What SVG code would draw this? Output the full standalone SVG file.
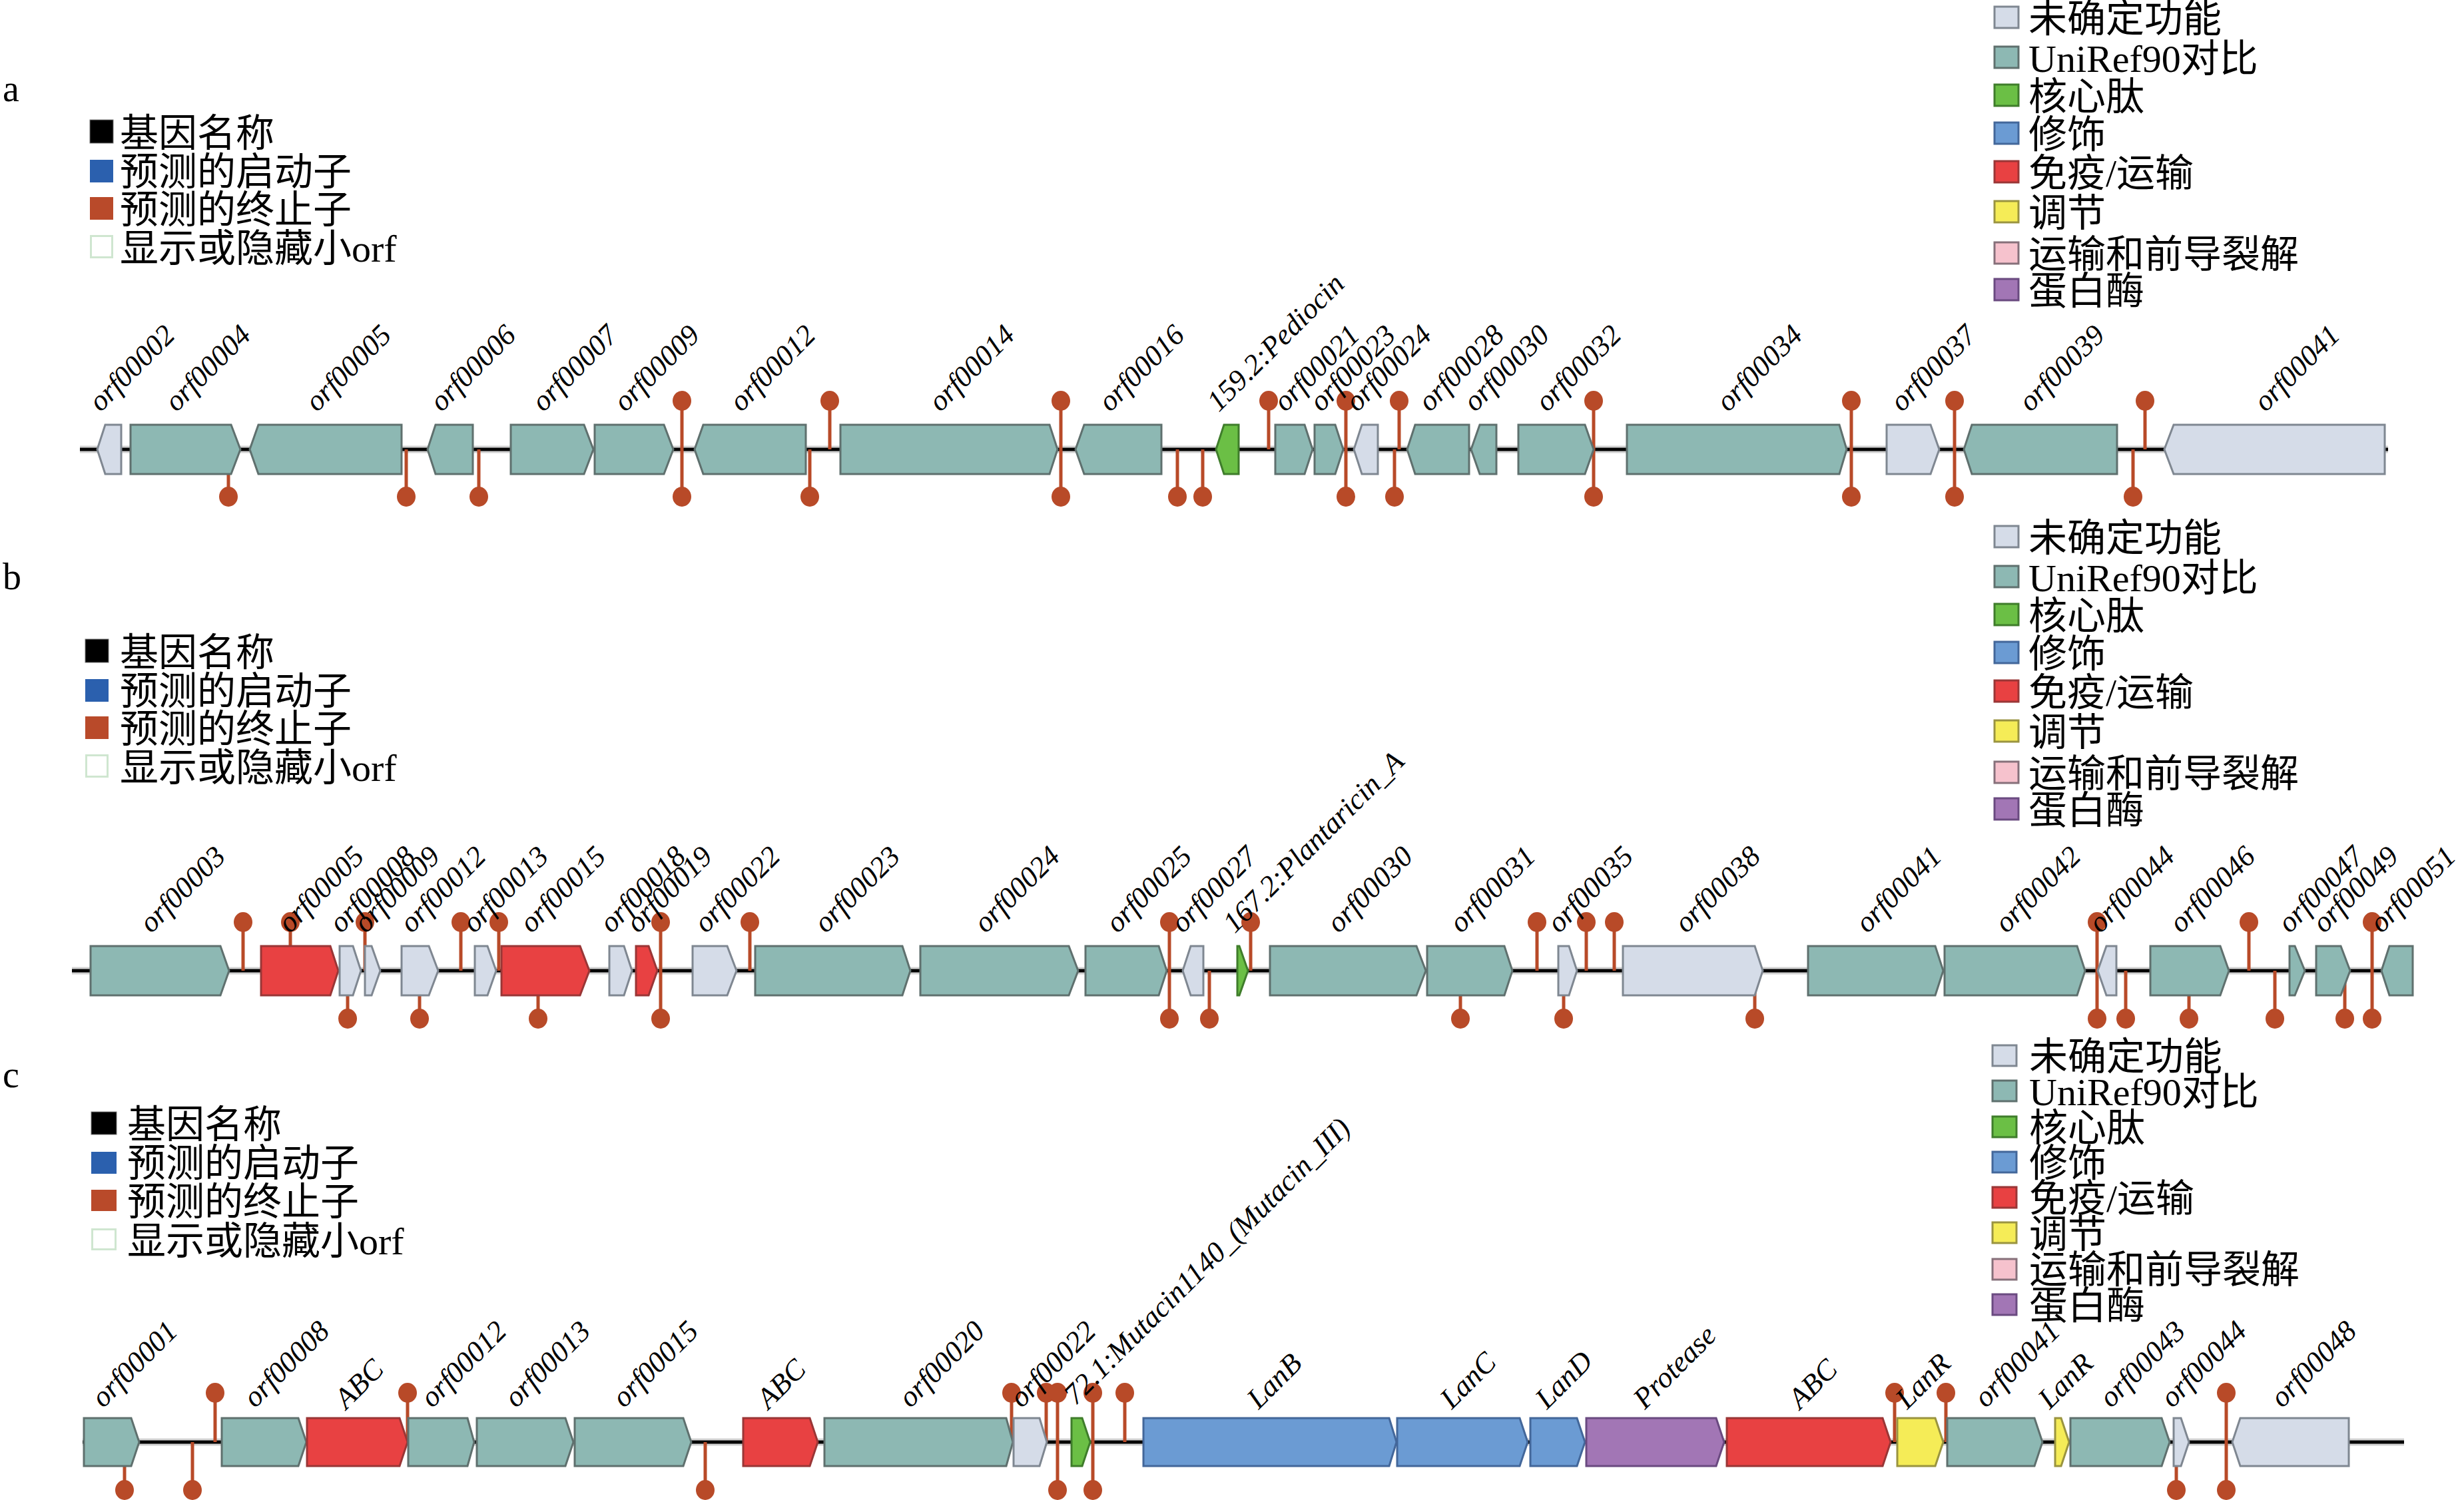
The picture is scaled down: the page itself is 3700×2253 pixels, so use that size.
<svg xmlns="http://www.w3.org/2000/svg" width="3700" height="2253" viewBox="0 0 3700 2253">
<style>
.bg{fill:#ffffff}
.axis{stroke:#000;stroke-width:5}
.halo{stroke:#d2d2d2;stroke-width:11}
.g{stroke-width:3;stroke-linejoin:miter}
.teal{fill:#8db8b3;stroke:#5f706e}
.grey{fill:#d5dce8;stroke:#7f8791}
.red{fill:#e84142;stroke:#9a3636}
.green{fill:#6bbf45;stroke:#3f7d2b}
.blue{fill:#6b9bd3;stroke:#43679a}
.purple{fill:#a276b5;stroke:#6a4a80}
.yellow{fill:#f5ec57;stroke:#9a9440}
.pink{fill:#f6c2cd;stroke:#86707a}
.lbl{font-family:"Liberation Serif","Times New Roman",serif;font-style:italic;font-size:44px;fill:#000}
.leg{font-family:"Liberation Serif","Noto Sans CJK SC",serif;font-size:58px;fill:#000}
.pl{font-family:"Liberation Serif",serif;font-size:56px;fill:#000}
.ts line{stroke:#b84a28;stroke-width:5}
.ts ellipse{fill:#b84a28}
.sq{stroke-width:3}
</style>
<rect class="bg" x="0" y="0" width="3700" height="2253"/>

<!-- panel letters -->
<text class="pl" x="4" y="152">a</text>
<text class="pl" x="4" y="885">b</text>
<text class="pl" x="4" y="1633">c</text>

<!-- left legends -->
<g id="legend-left-a">
<rect x="135" y="180" width="35" height="35" fill="#000" stroke="#777" stroke-width="1"/>
<rect x="135" y="240" width="35" height="34" fill="#2b60ae"/>
<rect x="135" y="296" width="35" height="34" fill="#b94a2a"/>
<rect x="136.5" y="354.5" width="32" height="32" fill="#fff" stroke="#cfe6d0" stroke-width="3"/>
<text class="leg" x="180" y="220">基因名称</text>
<text class="leg" x="180" y="278">预测的启动子</text>
<text class="leg" x="180" y="335">预测的终止子</text>
<text class="leg" x="180" y="393">显示或隐藏小orf</text>
</g>
<g id="legend-left-b">
<rect x="128" y="960" width="35" height="35" fill="#000" stroke="#777" stroke-width="1"/>
<rect x="128" y="1020" width="35" height="34" fill="#2b60ae"/>
<rect x="128" y="1076" width="35" height="34" fill="#b94a2a"/>
<rect x="129.5" y="1134.5" width="32" height="32" fill="#fff" stroke="#cfe6d0" stroke-width="3"/>
<text class="leg" x="180" y="1000">基因名称</text>
<text class="leg" x="180" y="1058">预测的启动子</text>
<text class="leg" x="180" y="1115">预测的终止子</text>
<text class="leg" x="180" y="1173">显示或隐藏小orf</text>
</g>
<g id="legend-left-c">
<rect x="137" y="1670" width="38" height="34" fill="#000" stroke="#777" stroke-width="1"/>
<rect x="137" y="1730" width="38" height="33" fill="#2b60ae"/>
<rect x="137" y="1787" width="38" height="32" fill="#b94a2a"/>
<rect x="138.5" y="1846.5" width="35" height="30" fill="#fff" stroke="#cfe6d0" stroke-width="3"/>
<text class="leg" x="191" y="1709">基因名称</text>
<text class="leg" x="191" y="1767">预测的启动子</text>
<text class="leg" x="191" y="1825">预测的终止子</text>
<text class="leg" x="191" y="1884">显示或隐藏小orf</text>
</g>

<!-- right legends -->
<g id="legend-right-a">
<rect class="sq grey" x="2995" y="10" width="36" height="32"/>
<rect class="sq teal" x="2995" y="70" width="36" height="32"/>
<rect class="sq green" x="2995" y="127" width="36" height="32"/>
<rect class="sq blue" x="2995" y="184" width="36" height="32"/>
<rect class="sq red" x="2995" y="242" width="36" height="32"/>
<rect class="sq yellow" x="2995" y="302" width="36" height="32"/>
<rect class="sq pink" x="2995" y="364" width="36" height="32"/>
<rect class="sq purple" x="2995" y="419" width="36" height="32"/>
<text class="leg" x="3046" y="48">未确定功能</text>
<text class="leg" x="3046" y="108">UniRef90对比</text>
<text class="leg" x="3046" y="165">核心肽</text>
<text class="leg" x="3046" y="222">修饰</text>
<text class="leg" x="3046" y="280">免疫/运输</text>
<text class="leg" x="3046" y="340">调节</text>
<text class="leg" x="3046" y="402">运输和前导裂解</text>
<text class="leg" x="3046" y="457">蛋白酶</text>
</g>
<g id="legend-right-b">
<rect class="sq grey" x="2995" y="790" width="36" height="32"/>
<rect class="sq teal" x="2995" y="850" width="36" height="32"/>
<rect class="sq green" x="2995" y="907" width="36" height="32"/>
<rect class="sq blue" x="2995" y="964" width="36" height="32"/>
<rect class="sq red" x="2995" y="1022" width="36" height="32"/>
<rect class="sq yellow" x="2995" y="1082" width="36" height="32"/>
<rect class="sq pink" x="2995" y="1144" width="36" height="32"/>
<rect class="sq purple" x="2995" y="1199" width="36" height="32"/>
<text class="leg" x="3046" y="828">未确定功能</text>
<text class="leg" x="3046" y="888">UniRef90对比</text>
<text class="leg" x="3046" y="945">核心肽</text>
<text class="leg" x="3046" y="1002">修饰</text>
<text class="leg" x="3046" y="1060">免疫/运输</text>
<text class="leg" x="3046" y="1120">调节</text>
<text class="leg" x="3046" y="1182">运输和前导裂解</text>
<text class="leg" x="3046" y="1237">蛋白酶</text>
</g>
<g id="legend-right-c">
<rect class="sq grey" x="2992" y="1570" width="36" height="31"/>
<rect class="sq teal" x="2992" y="1623" width="36" height="31"/>
<rect class="sq green" x="2992" y="1677" width="36" height="31"/>
<rect class="sq blue" x="2992" y="1730" width="36" height="31"/>
<rect class="sq red" x="2992" y="1783" width="36" height="31"/>
<rect class="sq yellow" x="2992" y="1836" width="36" height="31"/>
<rect class="sq pink" x="2992" y="1891" width="36" height="31"/>
<rect class="sq purple" x="2992" y="1944" width="36" height="31"/>
<text class="leg" x="3047" y="1607">未确定功能</text>
<text class="leg" x="3047" y="1660">UniRef90对比</text>
<text class="leg" x="3047" y="1714">核心肽</text>
<text class="leg" x="3047" y="1767">修饰</text>
<text class="leg" x="3047" y="1820">免疫/运输</text>
<text class="leg" x="3047" y="1874">调节</text>
<text class="leg" x="3047" y="1927">运输和前导裂解</text>
<text class="leg" x="3047" y="1981">蛋白酶</text>
</g>

<!-- connectors: backbone lines and terminators -->
<g id="connectors">
<line class="halo" x1="120" y1="675" x2="3586" y2="675"/>
<line class="axis" x1="120" y1="675" x2="3586" y2="675"/>
<line class="halo" x1="108" y1="1458" x2="3623" y2="1458"/>
<line class="axis" x1="108" y1="1458" x2="3623" y2="1458"/>
<line class="halo" x1="124" y1="2166" x2="3610" y2="2166"/>
<line class="axis" x1="124" y1="2166" x2="3610" y2="2166"/>
<g class="ts" id="terminators-a">
<line x1="343" y1="675" x2="343" y2="746"/><ellipse cx="343" cy="746" rx="14" ry="15"/>
<line x1="610" y1="675" x2="610" y2="746"/><ellipse cx="610" cy="746" rx="14" ry="15"/>
<line x1="719" y1="675" x2="719" y2="746"/><ellipse cx="719" cy="746" rx="14" ry="15"/>
<line x1="1024" y1="602" x2="1024" y2="746"/><ellipse cx="1024" cy="602" rx="14" ry="15"/><ellipse cx="1024" cy="746" rx="14" ry="15"/>
<line x1="1216" y1="675" x2="1216" y2="746"/><ellipse cx="1216" cy="746" rx="14" ry="15"/>
<line x1="1246" y1="675" x2="1246" y2="602"/><ellipse cx="1246" cy="602" rx="14" ry="15"/>
<line x1="1593" y1="602" x2="1593" y2="746"/><ellipse cx="1593" cy="602" rx="14" ry="15"/><ellipse cx="1593" cy="746" rx="14" ry="15"/>
<line x1="1768" y1="675" x2="1768" y2="746"/><ellipse cx="1768" cy="746" rx="14" ry="15"/>
<line x1="1806" y1="675" x2="1806" y2="746"/><ellipse cx="1806" cy="746" rx="14" ry="15"/>
<line x1="1905" y1="675" x2="1905" y2="602"/><ellipse cx="1905" cy="602" rx="14" ry="15"/>
<line x1="2021" y1="602" x2="2021" y2="746"/><ellipse cx="2021" cy="602" rx="14" ry="15"/><ellipse cx="2021" cy="746" rx="14" ry="15"/>
<line x1="2101" y1="675" x2="2101" y2="602"/><ellipse cx="2101" cy="602" rx="14" ry="15"/>
<line x1="2094" y1="675" x2="2094" y2="746"/><ellipse cx="2094" cy="746" rx="14" ry="15"/>
<line x1="2393" y1="602" x2="2393" y2="746"/><ellipse cx="2393" cy="602" rx="14" ry="15"/><ellipse cx="2393" cy="746" rx="14" ry="15"/>
<line x1="2780" y1="602" x2="2780" y2="746"/><ellipse cx="2780" cy="602" rx="14" ry="15"/><ellipse cx="2780" cy="746" rx="14" ry="15"/>
<line x1="2935" y1="602" x2="2935" y2="746"/><ellipse cx="2935" cy="602" rx="14" ry="15"/><ellipse cx="2935" cy="746" rx="14" ry="15"/>
<line x1="3221" y1="675" x2="3221" y2="602"/><ellipse cx="3221" cy="602" rx="14" ry="15"/>
<line x1="3203" y1="675" x2="3203" y2="746"/><ellipse cx="3203" cy="746" rx="14" ry="15"/>
</g>
<g class="ts" id="terminators-b">
<line x1="365" y1="1458" x2="365" y2="1385"/><ellipse cx="365" cy="1385" rx="14" ry="15"/>
<line x1="436" y1="1458" x2="436" y2="1385"/><ellipse cx="436" cy="1385" rx="14" ry="15"/>
<line x1="522" y1="1458" x2="522" y2="1530"/><ellipse cx="522" cy="1530" rx="14" ry="15"/>
<line x1="548" y1="1458" x2="548" y2="1385"/><ellipse cx="548" cy="1385" rx="14" ry="15"/>
<line x1="630" y1="1458" x2="630" y2="1530"/><ellipse cx="630" cy="1530" rx="14" ry="15"/>
<line x1="692" y1="1458" x2="692" y2="1385"/><ellipse cx="692" cy="1385" rx="14" ry="15"/>
<line x1="749" y1="1458" x2="749" y2="1385"/><ellipse cx="749" cy="1385" rx="14" ry="15"/>
<line x1="808" y1="1458" x2="808" y2="1530"/><ellipse cx="808" cy="1530" rx="14" ry="15"/>
<line x1="992" y1="1385" x2="992" y2="1530"/><ellipse cx="992" cy="1385" rx="14" ry="15"/><ellipse cx="992" cy="1530" rx="14" ry="15"/>
<line x1="1126" y1="1458" x2="1126" y2="1385"/><ellipse cx="1126" cy="1385" rx="14" ry="15"/>
<line x1="1756" y1="1385" x2="1756" y2="1530"/><ellipse cx="1756" cy="1385" rx="14" ry="15"/><ellipse cx="1756" cy="1530" rx="14" ry="15"/>
<line x1="1816" y1="1458" x2="1816" y2="1530"/><ellipse cx="1816" cy="1530" rx="14" ry="15"/>
<line x1="1878" y1="1458" x2="1878" y2="1385"/><ellipse cx="1878" cy="1385" rx="14" ry="15"/>
<line x1="2193" y1="1458" x2="2193" y2="1530"/><ellipse cx="2193" cy="1530" rx="14" ry="15"/>
<line x1="2308" y1="1458" x2="2308" y2="1385"/><ellipse cx="2308" cy="1385" rx="14" ry="15"/>
<line x1="2348" y1="1458" x2="2348" y2="1530"/><ellipse cx="2348" cy="1530" rx="14" ry="15"/>
<line x1="2382" y1="1458" x2="2382" y2="1385"/><ellipse cx="2382" cy="1385" rx="14" ry="15"/>
<line x1="2424" y1="1458" x2="2424" y2="1385"/><ellipse cx="2424" cy="1385" rx="14" ry="15"/>
<line x1="2635" y1="1458" x2="2635" y2="1530"/><ellipse cx="2635" cy="1530" rx="14" ry="15"/>
<line x1="3149" y1="1385" x2="3149" y2="1530"/><ellipse cx="3149" cy="1385" rx="14" ry="15"/><ellipse cx="3149" cy="1530" rx="14" ry="15"/>
<line x1="3192" y1="1458" x2="3192" y2="1530"/><ellipse cx="3192" cy="1530" rx="14" ry="15"/>
<line x1="3287" y1="1458" x2="3287" y2="1530"/><ellipse cx="3287" cy="1530" rx="14" ry="15"/>
<line x1="3377" y1="1458" x2="3377" y2="1385"/><ellipse cx="3377" cy="1385" rx="14" ry="15"/>
<line x1="3416" y1="1458" x2="3416" y2="1530"/><ellipse cx="3416" cy="1530" rx="14" ry="15"/>
<line x1="3521" y1="1458" x2="3521" y2="1530"/><ellipse cx="3521" cy="1530" rx="14" ry="15"/>
<line x1="3562" y1="1385" x2="3562" y2="1530"/><ellipse cx="3562" cy="1385" rx="14" ry="15"/><ellipse cx="3562" cy="1530" rx="14" ry="15"/>
</g>
<g class="ts" id="terminators-c">
<line x1="187" y1="2166" x2="187" y2="2238"/><ellipse cx="187" cy="2238" rx="14" ry="15"/>
<line x1="289" y1="2166" x2="289" y2="2238"/><ellipse cx="289" cy="2238" rx="14" ry="15"/>
<line x1="323" y1="2166" x2="323" y2="2092"/><ellipse cx="323" cy="2092" rx="14" ry="15"/>
<line x1="612" y1="2166" x2="612" y2="2092"/><ellipse cx="612" cy="2092" rx="14" ry="15"/>
<line x1="1059" y1="2166" x2="1059" y2="2238"/><ellipse cx="1059" cy="2238" rx="14" ry="15"/>
<line x1="1519" y1="2166" x2="1519" y2="2092"/><ellipse cx="1519" cy="2092" rx="14" ry="15"/>
<line x1="1571" y1="2166" x2="1571" y2="2092"/><ellipse cx="1571" cy="2092" rx="14" ry="15"/>
<line x1="1588" y1="2092" x2="1588" y2="2238"/><ellipse cx="1588" cy="2092" rx="14" ry="15"/><ellipse cx="1588" cy="2238" rx="14" ry="15"/>
<line x1="1641" y1="2092" x2="1641" y2="2238"/><ellipse cx="1641" cy="2092" rx="14" ry="15"/><ellipse cx="1641" cy="2238" rx="14" ry="15"/>
<line x1="1689" y1="2166" x2="1689" y2="2092"/><ellipse cx="1689" cy="2092" rx="14" ry="15"/>
<line x1="2845" y1="2166" x2="2845" y2="2092"/><ellipse cx="2845" cy="2092" rx="14" ry="15"/>
<line x1="2922" y1="2166" x2="2922" y2="2092"/><ellipse cx="2922" cy="2092" rx="14" ry="15"/>
<line x1="3268" y1="2166" x2="3268" y2="2238"/><ellipse cx="3268" cy="2238" rx="14" ry="15"/>
<line x1="3343" y1="2092" x2="3343" y2="2238"/><ellipse cx="3343" cy="2092" rx="14" ry="15"/><ellipse cx="3343" cy="2238" rx="14" ry="15"/>
</g>
</g>

<!-- Track a genes -->
<g id="track-a">
<g id="a-orf00002"><path class="g grey" d="M182 638H158L146 675L158 712H182Z"/><text class="lbl" x="151" y="620" transform="rotate(-45 151 620)">orf00002</text></g>
<g id="a-orf00004"><path class="g teal" d="M196 638H347L361 675L347 712H196Z"/><text class="lbl" x="265" y="620" transform="rotate(-45 265 620)">orf00004</text></g>
<g id="a-orf00005"><path class="g teal" d="M603 638H388L375 675L388 712H603Z"/><text class="lbl" x="476" y="620" transform="rotate(-45 476 620)">orf00005</text></g>
<g id="a-orf00006"><path class="g teal" d="M710 638H654L642 675L654 712H710Z"/><text class="lbl" x="663" y="620" transform="rotate(-45 663 620)">orf00006</text></g>
<g id="a-orf00007"><path class="g teal" d="M767 638H877L891 675L877 712H767Z"/><text class="lbl" x="816" y="620" transform="rotate(-45 816 620)">orf00007</text></g>
<g id="a-orf00009"><path class="g teal" d="M893 638H997L1011 675L997 712H893Z"/><text class="lbl" x="939" y="620" transform="rotate(-45 939 620)">orf00009</text></g>
<g id="a-orf00012"><path class="g teal" d="M1210 638H1056L1043 675L1056 712H1210Z"/><text class="lbl" x="1113" y="620" transform="rotate(-45 1113 620)">orf00012</text></g>
<g id="a-orf00014"><path class="g teal" d="M1262 638H1576L1588 675L1576 712H1262Z"/><text class="lbl" x="1412" y="620" transform="rotate(-45 1412 620)">orf00014</text></g>
<g id="a-orf00016"><path class="g teal" d="M1744 638H1628L1615 675L1628 712H1744Z"/><text class="lbl" x="1667" y="620" transform="rotate(-45 1667 620)">orf00016</text></g>
<g id="a-pediocin"><path class="g green" d="M1860 638H1838L1826 675L1838 712H1860Z"/><text class="lbl" x="1830" y="620" transform="rotate(-45 1830 620)">159.2:Pediocin</text></g>
<g id="a-orf00021"><path class="g teal" d="M1915 638H1959L1971 675L1959 712H1915Z"/><text class="lbl" x="1930" y="620" transform="rotate(-45 1930 620)">orf00021</text></g>
<g id="a-orf00023"><path class="g teal" d="M1974 638H2005L2017 675L2005 712H1974Z"/><text class="lbl" x="1984" y="620" transform="rotate(-45 1984 620)">orf00023</text></g>
<g id="a-orf00024"><path class="g grey" d="M2069 638H2045L2033 675L2045 712H2069Z"/><text class="lbl" x="2038" y="620" transform="rotate(-45 2038 620)">orf00024</text></g>
<g id="a-orf00028"><path class="g teal" d="M2206 638H2125L2113 675L2125 712H2206Z"/><text class="lbl" x="2147" y="620" transform="rotate(-45 2147 620)">orf00028</text></g>
<g id="a-orf00030"><path class="g teal" d="M2247 638H2222L2209 675L2222 712H2247Z"/><text class="lbl" x="2215" y="620" transform="rotate(-45 2215 620)">orf00030</text></g>
<g id="a-orf00032"><path class="g teal" d="M2280 638H2380L2393 675L2380 712H2280Z"/><text class="lbl" x="2323" y="620" transform="rotate(-45 2323 620)">orf00032</text></g>
<g id="a-orf00034"><path class="g teal" d="M2443 638H2762L2773 675L2762 712H2443Z"/><text class="lbl" x="2595" y="620" transform="rotate(-45 2595 620)">orf00034</text></g>
<g id="a-orf00037"><path class="g grey" d="M2833 638H2899L2912 675L2899 712H2833Z"/><text class="lbl" x="2856" y="620" transform="rotate(-45 2856 620)">orf00037</text></g>
<g id="a-orf00039"><path class="g teal" d="M3179 638H2961L2949 675L2961 712H3179Z"/><text class="lbl" x="3049" y="620" transform="rotate(-45 3049 620)">orf00039</text></g>
<g id="a-orf00041"><path class="g grey" d="M3581 638H3264L3250 675L3264 712H3581Z"/><text class="lbl" x="3402" y="620" transform="rotate(-45 3402 620)">orf00041</text></g>
</g>

<!-- Track b genes -->
<g id="track-b">
<g id="b-orf00003"><path class="g teal" d="M136 1421H331L344 1458L331 1495H136Z"/><text class="lbl" x="227" y="1403" transform="rotate(-45 227 1403)">orf00003</text></g>
<g id="b-orf00005"><path class="g red" d="M392 1421H496L508 1458L496 1495H392Z"/><text class="lbl" x="435" y="1403" transform="rotate(-45 435 1403)">orf00005</text></g>
<g id="b-orf00008"><path class="g grey" d="M510 1421H530L542 1458L530 1495H510Z"/><text class="lbl" x="512" y="1403" transform="rotate(-45 512 1403)">orf00008</text></g>
<g id="b-orf00009"><path class="g grey" d="M548 1421H558L571 1458L558 1495H548Z"/><text class="lbl" x="549" y="1403" transform="rotate(-45 549 1403)">orf00009</text></g>
<g id="b-orf00012"><path class="g grey" d="M603 1421H644L658 1458L644 1495H603Z"/><text class="lbl" x="618" y="1403" transform="rotate(-45 618 1403)">orf00012</text></g>
<g id="b-orf00013"><path class="g grey" d="M713 1421H732L745 1458L732 1495H713Z"/><text class="lbl" x="712" y="1403" transform="rotate(-45 712 1403)">orf00013</text></g>
<g id="b-orf00015"><path class="g red" d="M753 1421H871L885 1458L871 1495H753Z"/><text class="lbl" x="798" y="1403" transform="rotate(-45 798 1403)">orf00015</text></g>
<g id="b-orf00018"><path class="g grey" d="M915 1421H937L949 1458L937 1495H915Z"/><text class="lbl" x="918" y="1403" transform="rotate(-45 918 1403)">orf00018</text></g>
<g id="b-orf00019"><path class="g red" d="M955 1421H974L987 1458L974 1495H955Z"/><text class="lbl" x="958" y="1403" transform="rotate(-45 958 1403)">orf00019</text></g>
<g id="b-orf00022"><path class="g grey" d="M1040 1421H1092L1106 1458L1092 1495H1040Z"/><text class="lbl" x="1060" y="1403" transform="rotate(-45 1060 1403)">orf00022</text></g>
<g id="b-orf00023"><path class="g teal" d="M1134 1421H1355L1367 1458L1355 1495H1134Z"/><text class="lbl" x="1240" y="1403" transform="rotate(-45 1240 1403)">orf00023</text></g>
<g id="b-orf00024"><path class="g teal" d="M1382 1421H1605L1619 1458L1605 1495H1382Z"/><text class="lbl" x="1480" y="1403" transform="rotate(-45 1480 1403)">orf00024</text></g>
<g id="b-orf00025"><path class="g teal" d="M1630 1421H1740L1752 1458L1740 1495H1630Z"/><text class="lbl" x="1678" y="1403" transform="rotate(-45 1678 1403)">orf00025</text></g>
<g id="b-orf00027"><path class="g grey" d="M1807 1421H1788L1776 1458L1788 1495H1807Z"/><text class="lbl" x="1776" y="1403" transform="rotate(-45 1776 1403)">orf00027</text></g>
<g id="b-plantaricin"><path class="g green" d="M1858 1421H1861L1874 1458L1861 1495H1858Z"/><text class="lbl" x="1854" y="1403" transform="rotate(-45 1854 1403)">167.2:Plantaricin_A</text></g>
<g id="b-orf00030"><path class="g teal" d="M1907 1421H2127L2141 1458L2127 1495H1907Z"/><text class="lbl" x="2010" y="1403" transform="rotate(-45 2010 1403)">orf00030</text></g>
<g id="b-orf00031"><path class="g teal" d="M2143 1421H2259L2271 1458L2259 1495H2143Z"/><text class="lbl" x="2194" y="1403" transform="rotate(-45 2194 1403)">orf00031</text></g>
<g id="b-orf00035"><path class="g grey" d="M2340 1421H2356L2368 1458L2356 1495H2340Z"/><text class="lbl" x="2341" y="1403" transform="rotate(-45 2341 1403)">orf00035</text></g>
<g id="b-orf00038"><path class="g grey" d="M2437 1421H2635L2647 1458L2635 1495H2437Z"/><text class="lbl" x="2532" y="1403" transform="rotate(-45 2532 1403)">orf00038</text></g>
<g id="b-orf00041"><path class="g teal" d="M2715 1421H2906L2918 1458L2906 1495H2715Z"/><text class="lbl" x="2804" y="1403" transform="rotate(-45 2804 1403)">orf00041</text></g>
<g id="b-orf00042"><path class="g teal" d="M2920 1421H3119L3131 1458L3119 1495H2920Z"/><text class="lbl" x="3013" y="1403" transform="rotate(-45 3013 1403)">orf00042</text></g>
<g id="b-orf00044"><path class="g grey" d="M3178 1421H3163L3150 1458L3163 1495H3178Z"/><text class="lbl" x="3154" y="1403" transform="rotate(-45 3154 1403)">orf00044</text></g>
<g id="b-orf00046"><path class="g teal" d="M3229 1421H3334L3347 1458L3334 1495H3229Z"/><text class="lbl" x="3275" y="1403" transform="rotate(-45 3275 1403)">orf00046</text></g>
<g id="b-orf00047"><path class="g teal" d="M3438 1421H3446L3461 1458L3446 1495H3438Z"/><text class="lbl" x="3438" y="1403" transform="rotate(-45 3438 1403)">orf00047</text></g>
<g id="b-orf00049"><path class="g teal" d="M3478 1421H3515L3529 1458L3515 1495H3478Z"/><text class="lbl" x="3490" y="1403" transform="rotate(-45 3490 1403)">orf00049</text></g>
<g id="b-orf00051"><path class="g teal" d="M3623 1421H3588L3576 1458L3588 1495H3623Z"/><text class="lbl" x="3576" y="1403" transform="rotate(-45 3576 1403)">orf00051</text></g>
</g>

<!-- Track c genes -->
<g id="track-c">
<g id="c-orf00001"><path class="g teal" d="M126 2130H197L209 2166L197 2202H126Z"/><text class="lbl" x="155" y="2116" transform="rotate(-45 155 2116)">orf00001</text></g>
<g id="c-orf00008"><path class="g teal" d="M333 2130H448L460 2166L448 2202H333Z"/><text class="lbl" x="383" y="2116" transform="rotate(-45 383 2116)">orf00008</text></g>
<g id="c-abc1"><path class="g red" d="M461 2130H600L612 2166L600 2202H461Z"/><text class="lbl" x="520" y="2118" transform="rotate(-45 520 2118)">ABC</text></g>
<g id="c-orf00012"><path class="g teal" d="M613 2130H702L712 2166L702 2202H613Z"/><text class="lbl" x="649" y="2116" transform="rotate(-45 649 2116)">orf00012</text></g>
<g id="c-orf00013"><path class="g teal" d="M716 2130H849L861 2166L849 2202H716Z"/><text class="lbl" x="775" y="2116" transform="rotate(-45 775 2116)">orf00013</text></g>
<g id="c-orf00015"><path class="g teal" d="M863 2130H1026L1038 2166L1026 2202H863Z"/><text class="lbl" x="937" y="2116" transform="rotate(-45 937 2116)">orf00015</text></g>
<g id="c-abc2"><path class="g red" d="M1116 2130H1216L1228 2166L1216 2202H1116Z"/><text class="lbl" x="1154" y="2118" transform="rotate(-45 1154 2118)">ABC</text></g>
<g id="c-orf00020"><path class="g teal" d="M1238 2130H1511L1521 2166L1511 2202H1238Z"/><text class="lbl" x="1367" y="2116" transform="rotate(-45 1367 2116)">orf00020</text></g>
<g id="c-orf00022"><path class="g grey" d="M1522 2130H1561L1572 2166L1561 2202H1522Z"/><text class="lbl" x="1534" y="2116" transform="rotate(-45 1534 2116)">orf00022</text></g>
<g id="c-mutacin"><path class="g green" d="M1609 2130H1625L1637 2166L1625 2202H1609Z"/><text class="lbl" x="1615" y="2112" transform="rotate(-45 1615 2112)">72.1:Mutacin1140_(Mutacin_III)</text></g>
<g id="c-lanb"><path class="g blue" d="M1717 2130H2086L2097 2166L2086 2202H1717Z"/><text class="lbl" x="1890" y="2118" transform="rotate(-45 1890 2118)">LanB</text></g>
<g id="c-lanc"><path class="g blue" d="M2098 2130H2282L2294 2166L2282 2202H2098Z"/><text class="lbl" x="2180" y="2118" transform="rotate(-45 2180 2118)">LanC</text></g>
<g id="c-land"><path class="g blue" d="M2298 2130H2368L2380 2166L2368 2202H2298Z"/><text class="lbl" x="2323" y="2118" transform="rotate(-45 2323 2118)">LanD</text></g>
<g id="c-protease"><path class="g purple" d="M2382 2130H2577L2589 2166L2577 2202H2382Z"/><text class="lbl" x="2470" y="2118" transform="rotate(-45 2470 2118)">Protease</text></g>
<g id="c-abc3"><path class="g red" d="M2593 2130H2827L2839 2166L2827 2202H2593Z"/><text class="lbl" x="2703" y="2118" transform="rotate(-45 2703 2118)">ABC</text></g>
<g id="c-lanr1"><path class="g yellow" d="M2849 2130H2906L2918 2166L2906 2202H2849Z"/><text class="lbl" x="2864" y="2118" transform="rotate(-45 2864 2118)">LanR</text></g>
<g id="c-orf00041"><path class="g teal" d="M2924 2130H3055L3067 2166L3055 2202H2924Z"/><text class="lbl" x="2982" y="2116" transform="rotate(-45 2982 2116)">orf00041</text></g>
<g id="c-lanr2"><path class="g yellow" d="M3086 2130H3095L3107 2166L3095 2202H3086Z"/><text class="lbl" x="3078" y="2118" transform="rotate(-45 3078 2118)">LanR</text></g>
<g id="c-orf00043"><path class="g teal" d="M3109 2130H3246L3258 2166L3246 2202H3109Z"/><text class="lbl" x="3170" y="2116" transform="rotate(-45 3170 2116)">orf00043</text></g>
<g id="c-orf00044"><path class="g grey" d="M3264 2130H3275L3287 2166L3275 2202H3264Z"/><text class="lbl" x="3262" y="2116" transform="rotate(-45 3262 2116)">orf00044</text></g>
<g id="c-orf00048"><path class="g grey" d="M3527 2130H3364L3352 2166L3364 2202H3527Z"/><text class="lbl" x="3427" y="2116" transform="rotate(-45 3427 2116)">orf00048</text></g>
</g>
</svg>
